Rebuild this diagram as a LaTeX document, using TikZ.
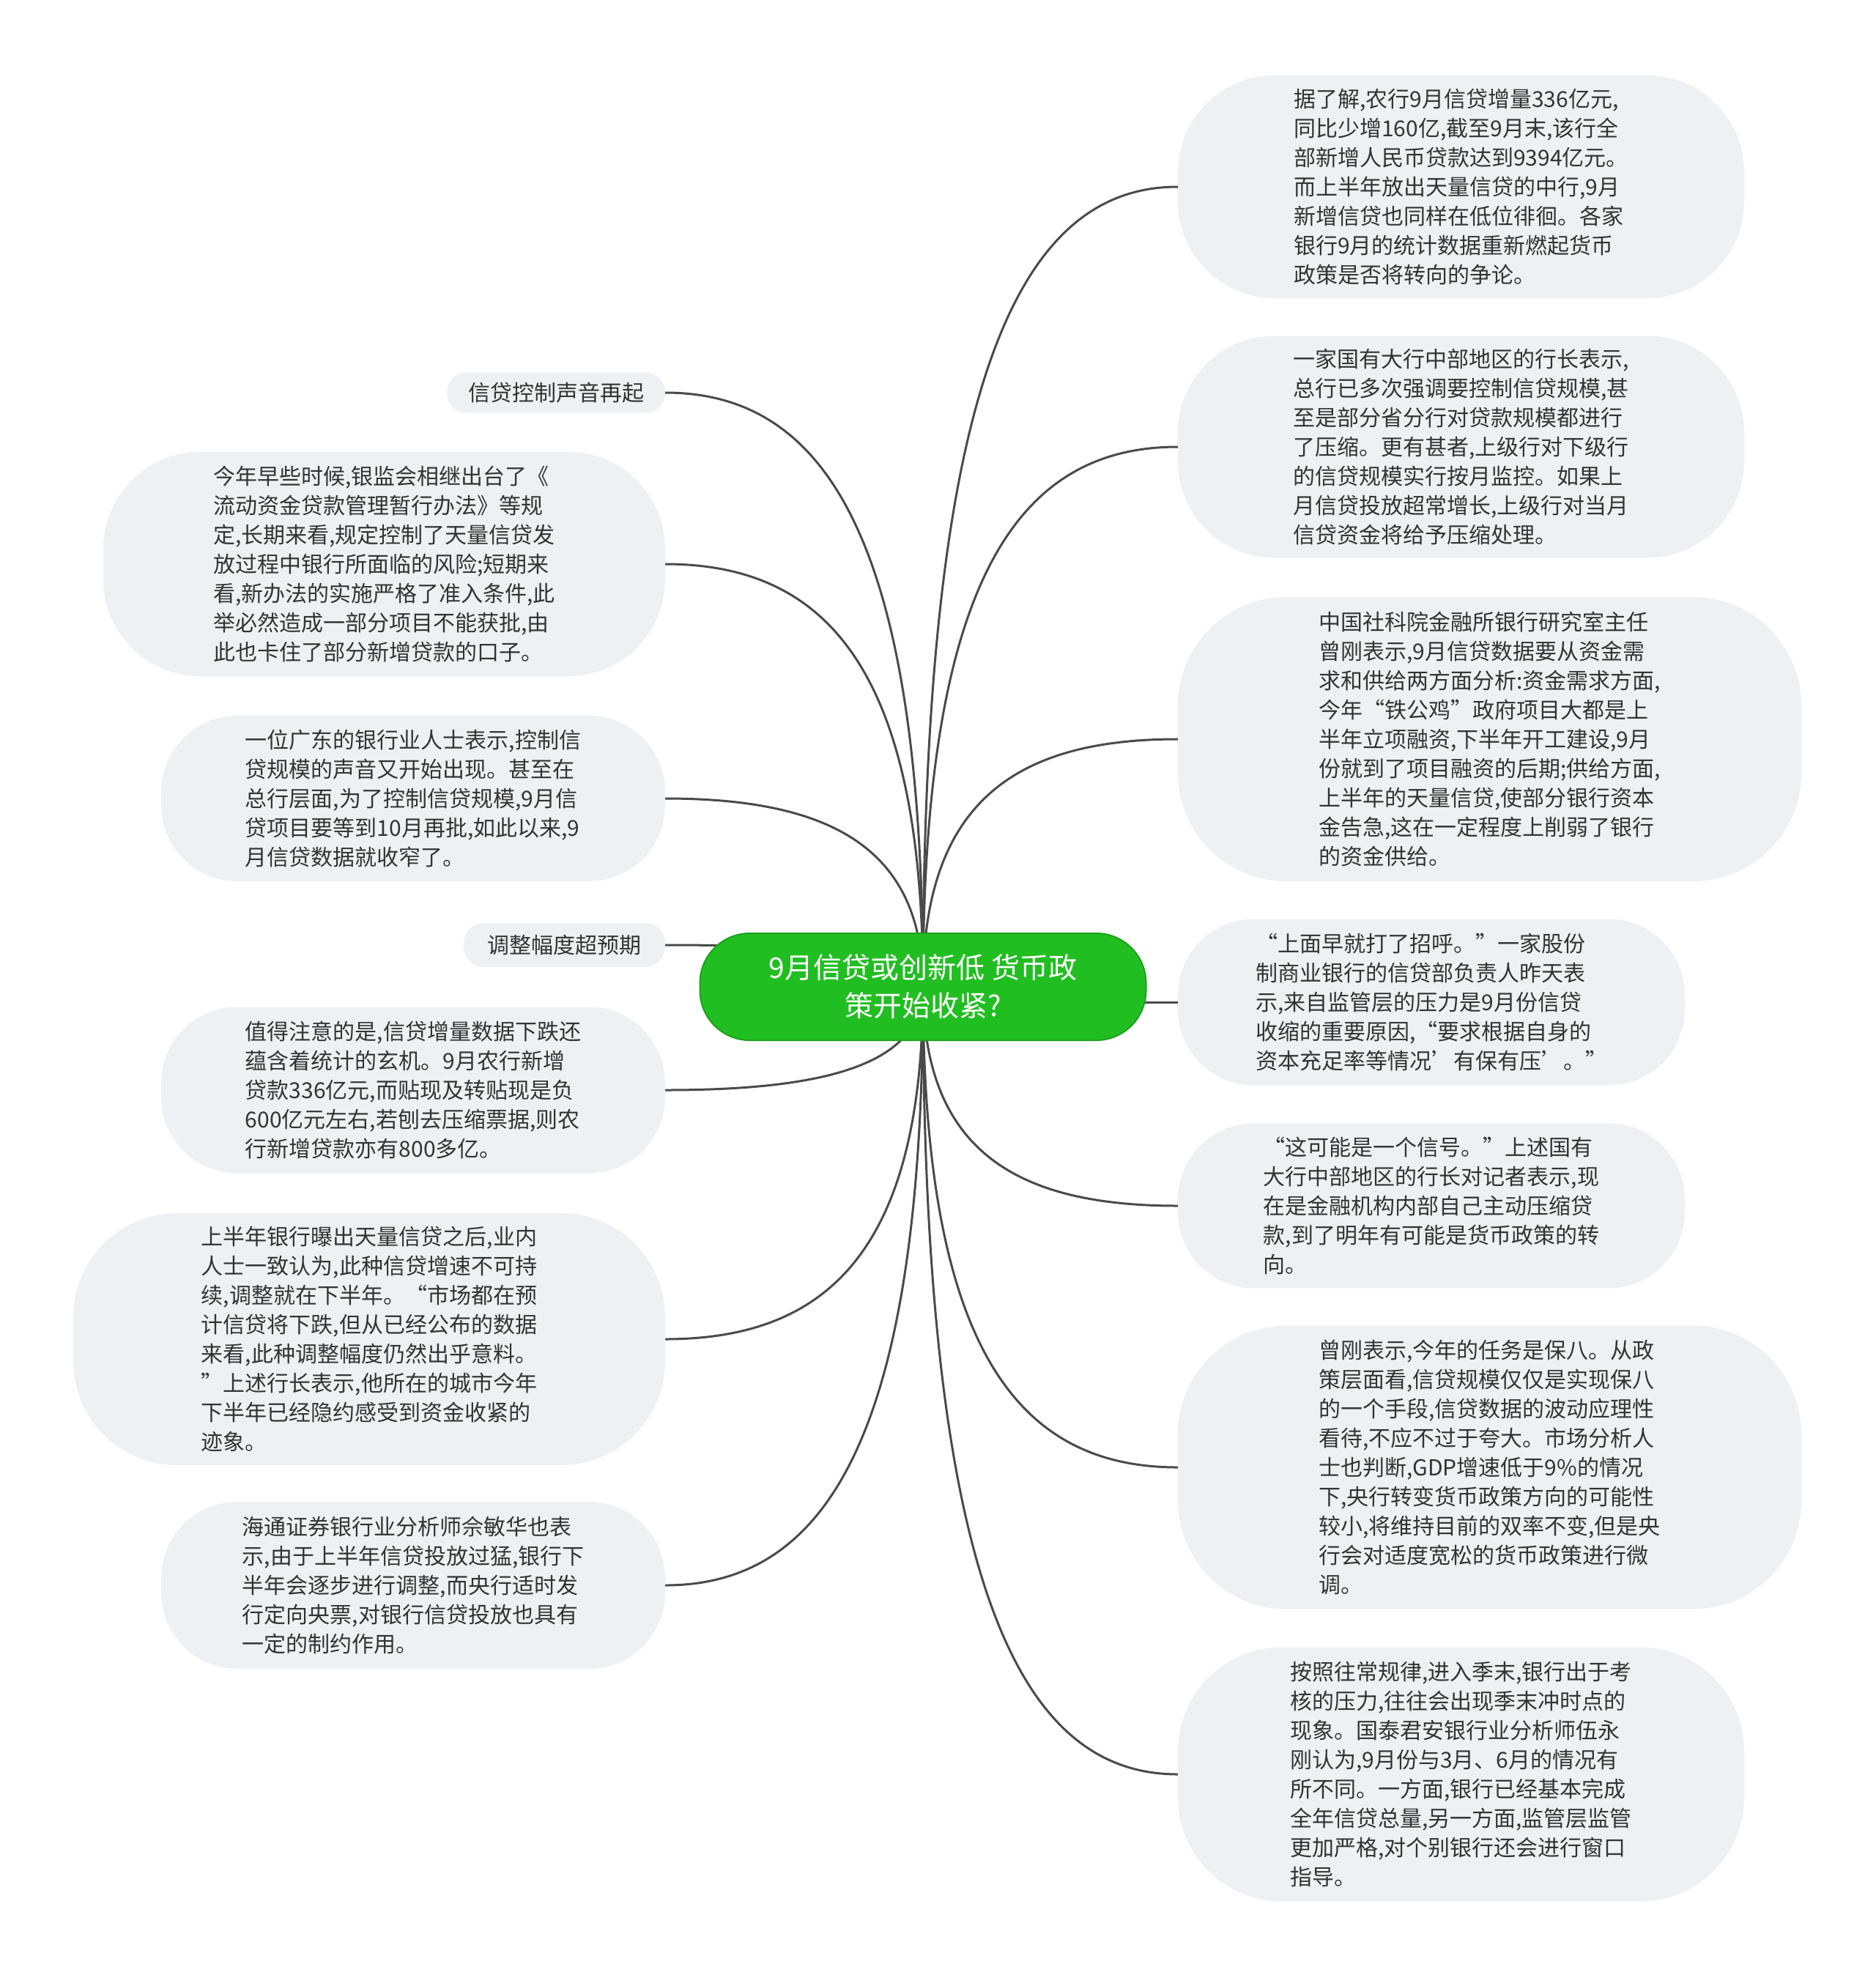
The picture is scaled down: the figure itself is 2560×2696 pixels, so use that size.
\documentclass[tikz,border=0pt]{standalone}
\usepackage{fontspec}
\setmainfont{Noto Sans CJK SC}
\usetikzlibrary{backgrounds,calc}

\definecolor{topicgreen}{RGB}{33,190,33}
\definecolor{leafgray}{HTML}{EEF0F3}
\definecolor{inkgray}{HTML}{333333}
\definecolor{linkgray}{HTML}{4A4A4A}

\begin{document}
\begin{tikzpicture}[x=1pt, y=-1pt,
    topic/.style={fill=topicgreen, draw=topicgreen!85!black, line width=2pt, rounded corners=68pt,
        text=white, align=center, font=\fontsize{39pt}{52pt}\selectfont,
        minimum width=609pt, minimum height=146pt, inner sep=0pt},
    leaf/.style={fill=leafgray, rounded corners=#1, text=inkgray, align=left,
        font=\fontsize{30pt}{40pt}\selectfont, inner sep=0pt},
    leaf/.default=104pt,
    tag/.style={fill=leafgray, rounded corners=27pt, text=inkgray,
        font=\fontsize{30pt}{40pt}\selectfont, inner sep=0pt},
    link/.style={draw=linkgray, line width=3pt}]

    \useasboundingbox (0,0) rectangle (2560,2696);

    % zentrum
    \node[topic] (c) at (1260,1347) {9月信贷或创新低 货币政\\策开始收紧?};

    % rechts
    \node[leaf=132pt, minimum width=773pt, minimum height=304pt] (r1) at (1994.5,255) {据了解,农行9月信贷增量336亿元,\\同比少增160亿,截至9月末,该行全\\部新增人民币贷款达到9394亿元。\\而上半年放出天量信贷的中行,9月\\新增信贷也同样在低位徘徊。各家\\银行9月的统计数据重新燃起货币\\政策是否将转向的争论。};
    \node[leaf=132pt, minimum width=773pt, minimum height=303pt] (r2) at (1994.5,610) {一家国有大行中部地区的行长表示,\\总行已多次强调要控制信贷规模,甚\\至是部分省分行对贷款规模都进行\\了压缩。更有甚者,上级行对下级行\\的信贷规模实行按月监控。如果上\\月信贷投放超常增长,上级行对当月\\信贷资金将给予压缩处理。};
    \node[leaf=148pt, minimum width=851pt, minimum height=388pt] (r3) at (2033.5,1009) {中国社科院金融所银行研究室主任\\曾刚表示,9月信贷数据要从资金需\\求和供给两方面分析:资金需求方面,\\今年“铁公鸡”政府项目大都是上\\半年立项融资,下半年开工建设,9月\\份就到了项目融资的后期;供给方面,\\上半年的天量信贷,使部分银行资本\\金告急,这在一定程度上削弱了银行\\的资金供给。};
    \node[leaf, minimum width=692pt, minimum height=227pt] (r4) at (1954,1368) {“上面早就打了招呼。”一家股份\\制商业银行的信贷部负责人昨天表\\示,来自监管层的压力是9月份信贷\\收缩的重要原因,“要求根据自身的\\资本充足率等情况'有保有压'。”};
    \node[leaf, minimum width=692pt, minimum height=225pt] (r5) at (1954,1646) {“这可能是一个信号。”上述国有\\大行中部地区的行长对记者表示,现\\在是金融机构内部自己主动压缩贷\\款,到了明年有可能是货币政策的转\\向。};
    \node[leaf=148pt, minimum width=851pt, minimum height=387pt] (r6) at (2033.5,2003) {曾刚表示,今年的任务是保八。从政\\策层面看,信贷规模仅仅是实现保八\\的一个手段,信贷数据的波动应理性\\看待,不应不过于夸大。市场分析人\\士也判断,GDP增速低于9\%的情况\\下,央行转变货币政策方向的可能性\\较小,将维持目前的双率不变,但是央\\行会对适度宽松的货币政策进行微\\调。};
    \node[leaf=142pt, minimum width=773pt, minimum height=347pt] (r7) at (1994.5,2422) {按照往常规律,进入季末,银行出于考\\核的压力,往往会出现季末冲时点的\\现象。国泰君安银行业分析师伍永\\刚认为,9月份与3月、6月的情况有\\所不同。一方面,银行已经基本完成\\全年信贷总量,另一方面,监管层监管\\更加严格,对个别银行还会进行窗口\\指导。};

    % links
    \node[tag, minimum width=298pt, minimum height=55pt] (l1) at (759,536) {信贷控制声音再起};
    \node[leaf=132pt, minimum width=767pt, minimum height=306pt] (l2) at (524.5,770) {今年早些时候,银监会相继出台了《\\流动资金贷款管理暂行办法》等规\\定,长期来看,规定控制了天量信贷发\\放过程中银行所面临的风险;短期来\\看,新办法的实施严格了准入条件,此\\举必然造成一部分项目不能获批,由\\此也卡住了部分新增贷款的口子。};
    \node[leaf, minimum width=688pt, minimum height=226pt] (l3) at (564,1090) {一位广东的银行业人士表示,控制信\\贷规模的声音又开始出现。甚至在\\总行层面,为了控制信贷规模,9月信\\贷项目要等到10月再批,如此以来,9\\月信贷数据就收窄了。};
    \node[tag, minimum width=275pt, minimum height=60pt] (l4) at (770.5,1290) {调整幅度超预期};
    \node[leaf, minimum width=688pt, minimum height=227pt] (l5) at (564,1488) {值得注意的是,信贷增量数据下跌还\\蕴含着统计的玄机。9月农行新增\\贷款336亿元,而贴现及转贴现是负\\600亿元左右,若刨去压缩票据,则农\\行新增贷款亦有800多亿。};
    \node[leaf=142pt, minimum width=808pt, minimum height=344pt] (l6) at (504,1828) {上半年银行曝出天量信贷之后,业内\\人士一致认为,此种信贷增速不可持\\续,调整就在下半年。“市场都在预\\计信贷将下跌,但从已经公布的数据\\来看,此种调整幅度仍然出乎意料。\\”上述行长表示,他所在的城市今年\\下半年已经隐约感受到资金收紧的\\迹象。};
    \node[leaf, minimum width=688pt, minimum height=228pt] (l7) at (564,2164) {海通证券银行业分析师佘敏华也表\\示,由于上半年信贷投放过猛,银行下\\半年会逐步进行调整,而央行适时发\\行定向央票,对银行信贷投放也具有\\一定的制约作用。};

    % verbindungen
    \begin{scope}[on background layer]
        \foreach \n in {r1,r2,r3,r5,r6,r7}{
            \draw[link] (c.center) .. controls ($(c.center)!.75!(c.center |- \n.west)$) and ($(\n.west)+(-220,0)$) .. (\n.west);
        }
        \foreach \n in {l1,l2,l3,l4,l5,l6,l7}{
            \draw[link] (c.center) .. controls ($(c.center)!.75!(c.center |- \n.east)$) and ($(\n.east)+(220,0)$) .. (\n.east);
        }
        \draw[link] (c.center |- r4.west) -- (r4.west);
    \end{scope}

\end{tikzpicture}
\end{document}
